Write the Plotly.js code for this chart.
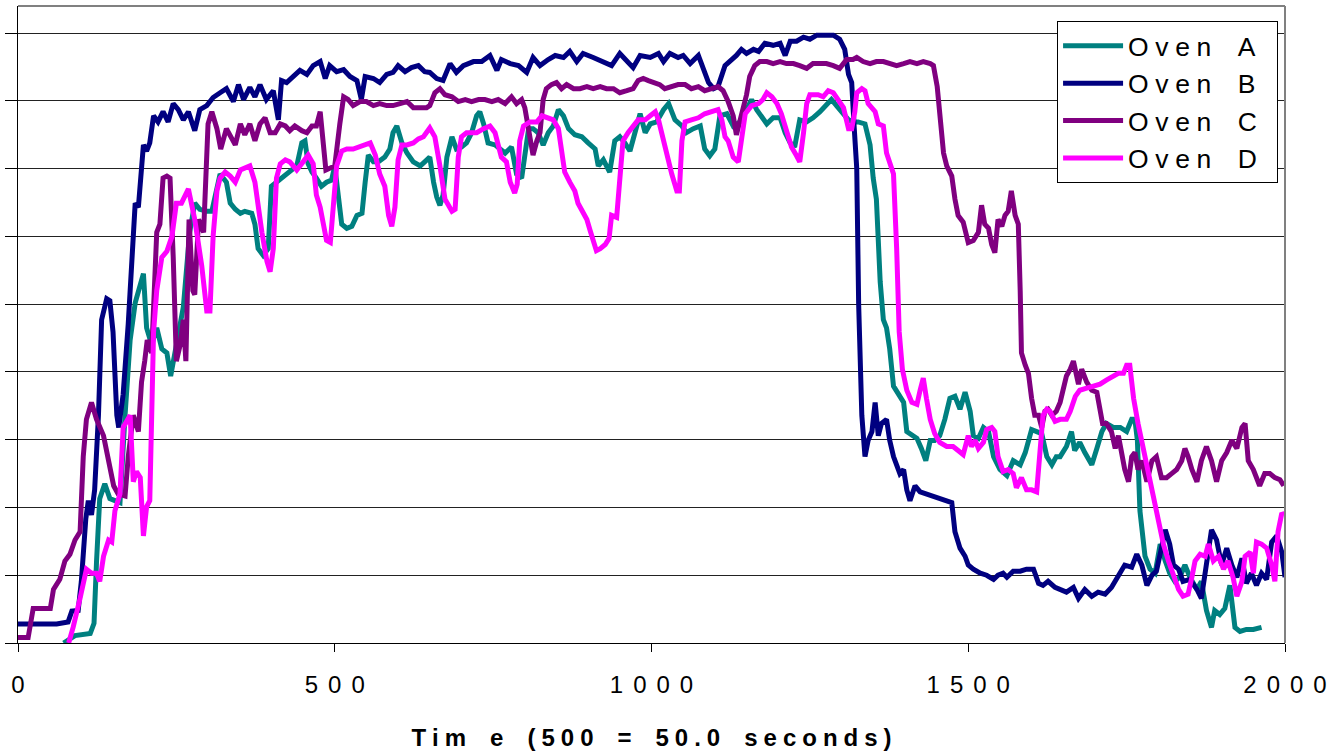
<!DOCTYPE html>
<html>
<head>
<meta charset="utf-8">
<script src="https://cdn.plot.ly/plotly-3.0.1.min.js"></script>
<style>html,body{margin:0;padding:0;background:#fff;}#chart{width:1327px;height:754px;}</style>
</head>
<body>
<div id="chart"></div>
<script>
// ---- Data (x: time index, y: arbitrary temperature units, gridline every 10) ----
const seriesNames = ["Oven A", "Oven B", "Oven C", "Oven D"];
const seriesColors = ["#008080", "#000080", "#800080", "#FF00FF"];
const xTickValues = [0, 500, 1000, 1500, 2000];
const xTickLabels = ["0", "500", "1000", "1500", "2000"];
const xTitle = "Tim e (500 = 50.0 seconds)";

const ovenA_x = [72,90,114,120,124,129,137,145,153,161,169,177,185,198,203,211,219,227,235,241,250,261,271,279,287,298,306,314,319,329,335,343,351,358,369,374,379,387,395,400,408,419,429,440,448,453,458,464,471,479,487,495,500,506,511,519,527,535,543,548,553,561,569,579,587,592,598,606,614,624,635,642,650,656,661,666,671,677,685,692,700,708,716,724,729,735,742,753,761,769,779,787,795,800,806,813,821,829,837,845,853,861,869,879,890,900,911,916,924,934,942,950,958,966,974,982,990,998,1008,1019,1027,1037,1048,1055,1066,1077,1084,1092,1100,1108,1119,1129,1140,1150,1158,1166,1174,1182,1192,1203,1211,1219,1226,1234,1245,1255,1266,1276,1284,1292,1303,1311,1318,1326,1337,1345,1350,1355,1361,1366,1371,1376,1382,1390,1398,1403,1411,1419,1426,1433,1440,1447,1455,1463,1471,1479,1487,1495,1503,1508,1516,1524,1532,1540,1550,1561,1571,1582,1590,1600,1608,1616,1624,1632,1639,1645,1655,1663,1668,1676,1684,1695,1703,1711,1718,1729,1740,1750,1758,1763,1767,1771,1779,1787,1795,1803,1811,1818,1826,1834,1842,1850,1861,1868,1876,1884,1889,1897,1905,1913,1921,1929,1939,1950,1963];
const ovenA_y = [0,1.1,1.4,2.9,12.1,21.3,23.5,21.3,21,20.7,33.6,44.7,50.2,54.5,46.5,44,46.5,43.4,42.8,39.4,44,49.6,60.6,64.9,64,63.7,63.7,66.7,69.2,68,64.9,64,63.4,63.7,63.4,61.8,58.2,57.2,58.2,67.4,68,68.9,69.8,70.4,73.8,74.1,70.7,69.5,68.6,67.4,68,68.3,70.4,66.1,61.8,61.2,61.5,63.1,63.4,68,72,71,71,71.7,72.9,75.3,76.3,73.8,72.3,71,70.4,71,71.7,68,65.8,64.6,66.1,71.7,74.7,72.9,73.2,73.8,75.3,77.8,78.4,76.6,73.8,73.5,72.9,72.3,73.2,69.2,68.6,71.7,75.9,75.9,75.3,73.5,75.3,76.3,78.7,77.8,75.9,75,74.7,73.8,72.9,70.4,71.3,69.5,74.1,74.7,73.8,72.6,75.3,78.1,75.3,76.6,76.9,78.7,79.6,77.2,76.3,75.3,75.9,76.3,72.9,71.9,72.9,77.8,78.1,76.3,76.9,78.7,80.2,78.7,77.5,76.6,77.5,77.5,75.3,73.8,73.2,77.2,76.9,77.5,78.4,79.3,80.2,79.3,78.1,77.2,76.9,76.9,76.6,73.5,68.6,65.5,53.3,47.7,46.5,43.4,37.9,36.7,35.5,31.2,30.6,30.2,28.7,26.9,29.9,29.9,30.6,33,36.1,36.4,34.5,37,34.2,30.6,30.2,31.8,31.2,27.5,25.6,24.7,26.9,26.3,28.1,31.5,31.2,30.9,27.5,26.3,27.5,27.5,29,31.2,28.4,29.6,28.1,26.3,28.7,31.2,32.4,31.8,31.8,31.2,33,33,29.9,19.5,12.8,10.9,10.3,14.6,12.1,10.3,9.1,9.7,11.5,9.7,7.9,9.1,4.8,2.3,4.8,4.2,5.1,8.5,2.3,1.7,2,2,2.3];

const ovenB_x = [0,61,79,85,95,100,107,111,116,121,127,132,140,145,150,156,159,166,174,179,185,190,198,203,208,214,221,229,237,245,253,261,269,279,287,298,308,319,329,340,348,356,366,374,382,392,403,411,416,424,435,445,456,466,477,485,492,503,514,524,535,542,548,561,571,582,592,600,611,621,632,642,650,661,671,682,692,703,719,732,745,756,763,777,790,803,813,824,837,848,861,871,882,892,908,924,937,950,961,971,982,998,1011,1019,1029,1042,1050,1061,1074,1082,1090,1098,1105,1116,1127,1134,1142,1150,1161,1169,1179,1192,1203,1211,1219,1229,1240,1250,1261,1276,1287,1297,1305,1311,1316,1320,1324,1327,1332,1337,1342,1348,1353,1358,1363,1371,1376,1382,1392,1398,1403,1408,1416,1424,1434,1445,1455,1466,1474,1479,1487,1495,1500,1508,1519,1529,1540,1547,1555,1561,1571,1582,1592,1603,1611,1618,1626,1637,1645,1655,1666,1674,1684,1695,1705,1716,1726,1737,1747,1758,1766,1774,1782,1790,1797,1805,1811,1818,1824,1832,1839,1850,1861,1868,1876,1884,1892,1900,1908,1916,1924,1932,1939,1947,1955,1963,1971,1979,1987,1995,2000];
const ovenB_y = [2.8,2.8,3.1,4.7,4.8,9.1,18.3,21,18.9,22.6,33.6,47.7,50.8,50.5,45.9,33.6,31.8,36.7,47.1,55,64.9,64.3,73.5,72.6,73.8,77.8,76.9,78.4,76.9,79.6,78.7,77.2,78.4,75.6,78.7,79.3,80.5,81.2,81.8,79.9,82.4,80.2,82,80.6,82.4,80.2,81.5,77.2,83,82.7,83.6,84.5,83.9,85.2,85.8,83.3,85.2,84.3,84.6,83.6,83,80.2,83.6,83.3,82.7,83.9,84.2,85.2,84.3,84.9,85.2,84.3,84.2,83.3,83,85.5,84.2,85.2,85.8,85.8,86.7,84.5,86.1,85.5,85.2,84.2,86.4,85.2,86.1,86.7,86.4,87.3,85.8,87,86.4,85.8,85.2,87,85.8,84.9,86.7,86.4,87,85.8,87,86.4,86.7,85.5,86.7,84.5,82.7,81.8,82.1,85.2,86.1,86.7,87.6,87,87.6,87.3,88.5,88.2,88.5,86.7,88.8,88.8,89.4,89.1,89.7,89.7,89.7,89.1,87.6,83.9,82.7,76,70,50,33.6,27.5,29.9,31.2,35.5,30.6,32.4,33,29.9,27.5,25,25.6,22.6,21,23.2,22.3,22,21.7,21.3,21,20.7,16.4,14,12.8,11.5,10.9,10.3,10,9.4,10,10.3,9.7,10.6,10.6,10.9,10.9,8.8,8.5,9.1,8.2,7.9,7.5,8.2,6.6,7.9,6.9,7.5,7.2,8.2,10,11.5,11.2,13.1,11.5,8.5,10,10.6,14,16.7,14.6,11.5,10.9,9.1,9.4,7.9,6.6,12.1,16.7,15.2,11.5,14,11.5,9.7,12.5,8.8,10.3,8.5,10.3,9.4,14.9,15.8,13.4,9.7];

const ovenC_x = [0,16,24,51,56,66,74,82,90,98,103,108,116,124,135,143,151,158,169,174,182,190,195,200,204,211,219,224,229,235,240,245,250,256,261,265,270,276,279,285,293,300,306,314,320,329,337,343,351,358,366,374,382,390,398,406,414,422,429,437,448,456,464,471,477,482,486,493,500,508,514,521,529,540,550,561,571,582,592,603,614,624,635,645,650,658,666,674,685,695,706,716,727,737,748,758,769,779,787,795,800,804,808,813,819,824,829,834,842,850,858,866,877,887,898,908,919,929,940,950,961,971,979,987,995,1003,1013,1021,1032,1042,1053,1063,1074,1084,1095,1105,1113,1121,1129,1134,1140,1145,1150,1155,1163,1171,1182,1192,1203,1213,1224,1234,1245,1255,1266,1276,1287,1297,1308,1318,1324,1334,1345,1355,1366,1376,1387,1398,1408,1419,1429,1440,1445,1451,1455,1461,1466,1474,1479,1484,1492,1500,1508,1516,1521,1526,1532,1537,1542,1547,1553,1558,1563,1568,1574,1579,1582,1584,1590,1595,1600,1605,1611,1616,1621,1626,1632,1639,1645,1650,1655,1661,1666,1674,1679,1687,1695,1703,1708,1712,1718,1726,1732,1737,1742,1747,1753,1758,1763,1768,1774,1782,1790,1797,1805,1813,1821,1829,1837,1842,1847,1853,1861,1868,1876,1884,1892,1900,1908,1916,1924,1932,1937,1942,1950,1960,1968,1976,1984,1992,1998];
const ovenC_y = [0.8,0.8,5.1,5.1,7.9,9.4,12.1,13.1,15.2,16.4,27.5,33,35.5,33,30.6,26.9,23.2,22,21.7,27.5,33.6,31.2,38.5,41.6,44.7,42.8,60.6,61.8,68.6,68.9,68.6,57,41.6,44,47.7,41.6,62.5,52,51.4,62.5,60.6,76.6,78.4,75.9,72.9,75.9,74.7,73.5,76.6,75,76.6,74.1,76.6,77.5,75.3,75.3,76.6,76.3,75.6,76.3,75.6,75.3,76.3,76.3,78.4,74.1,69.8,70.1,70.4,76.6,80.6,80.2,79.3,79.9,79.9,79.3,79.6,79.3,79.3,79.6,79.9,79,79,79,79.3,81.2,81.8,80.9,80.6,79.9,80.2,79.9,80.2,80.2,79.9,80.2,79.6,80.6,79.6,80.2,79,76.6,74.1,72,74.1,75.3,80.2,81.8,82.4,82.7,81.8,82.4,81.8,81.8,82.1,81.8,82.1,81.8,81.8,81.2,81.5,81.8,83,83.3,83,82.7,82.4,81.8,82.1,82.4,82.4,81.8,82.1,81.5,81.8,82.1,81.5,79.9,77.8,75,77.2,79,80.9,83.6,85.2,85.8,85.8,85.5,85.8,85.5,85.5,85.2,84.8,85.5,85.5,85.5,85.2,84.8,86.1,86.1,86.4,85.8,85.5,85.8,85.8,85.5,85.2,85.5,85.8,85.5,85.8,85.5,85.2,82.1,77.8,72.3,70.4,68.9,65.5,63.1,62.1,59.1,59.4,60.6,64.6,61.8,61.2,58.8,57.6,62.5,61.5,63.1,63.7,66.7,63.1,61.8,52,42.8,41,39.8,36.1,33.6,33.6,31.8,34.2,34.5,33.6,34.2,35.5,37.9,39.4,40.4,41.6,38.2,40.4,38.5,37.3,37,34.8,32.4,32.4,31.2,28.7,30.6,28.1,25.6,23.8,27.5,28.1,25.6,26.9,23.8,26.9,27.5,24.4,24.4,25,25.6,26.9,28.7,27.5,25.6,23.8,26.9,29,26.9,23.8,26.9,28.1,29.9,28.7,31.8,32.4,26.9,25.6,23.2,25,25,24.4,24.1,23.2];

const ovenD_x = [80,87,98,103,108,116,124,129,135,143,148,153,161,166,172,177,182,187,193,198,203,208,214,219,227,235,243,250,258,269,279,290,298,303,308,314,319,327,335,343,351,358,366,374,379,385,393,398,403,408,414,422,429,440,450,458,466,471,477,482,487,493,498,503,511,519,529,540,548,556,564,571,579,585,590,595,600,606,614,624,632,640,650,658,666,674,685,690,695,700,708,724,735,745,753,758,763,771,777,784,788,792,798,808,819,827,834,845,853,858,863,871,879,884,892,898,903,908,913,919,927,933,937,945,950,955,963,971,979,982,990,998,1006,1011,1016,1024,1032,1040,1044,1048,1053,1063,1074,1084,1095,1105,1111,1116,1121,1129,1137,1142,1148,1158,1169,1176,1182,1190,1198,1205,1213,1221,1229,1234,1240,1245,1250,1263,1271,1279,1287,1295,1303,1311,1316,1321,1324,1332,1337,1342,1348,1353,1358,1366,1371,1376,1382,1387,1391,1396,1403,1411,1419,1424,1429,1434,1440,1447,1455,1466,1476,1484,1492,1500,1505,1511,1516,1524,1529,1537,1542,1547,1555,1563,1571,1576,1584,1592,1600,1608,1613,1618,1624,1629,1637,1645,1655,1661,1669,1676,1687,1697,1708,1718,1729,1737,1745,1750,1755,1761,1768,1776,1784,1792,1800,1808,1816,1824,1832,1839,1847,1853,1858,1866,1874,1879,1887,1895,1903,1910,1918,1924,1932,1937,1945,1950,1955,1963,1971,1979,1984,1989,1995,1998];
const ovenD_y = [0,2.3,6.6,8.5,10.9,10.3,10.3,9.1,12.8,15.2,14.9,19.5,22,31.8,33,33.6,23.8,25.3,24.4,15.8,20.1,21,45.9,52,56.9,57.8,60,64.9,64.9,67,62.5,55.7,49,49,60,66.7,68.6,69.5,68.9,68,69.8,70.1,70.4,68,64.3,60.6,56.3,54.8,58.2,68.6,70.7,71.3,71,69.8,71,72,70.7,66.1,64.3,61.8,59.4,59.1,64.3,70.4,72.6,72.9,72.9,73.2,73.5,73.8,72,69.2,67.4,63.1,61.5,64.3,71.3,73.5,73.5,73.8,74.4,74.7,76,74.7,70.4,65.5,63.7,64,71.7,74.7,75.3,75.3,75.9,76.3,75.3,73.5,71.7,71,68,66.4,67.7,74.1,76.3,76.9,76.9,77.8,77.5,77.2,75.9,72.9,69.5,68,66.7,64.9,63.7,62.5,60.9,59.4,57.9,58.2,58.8,59.7,63.1,62.8,69.8,74.1,75.3,76.3,77.2,77.2,77.2,77.8,78.4,77.2,75.3,71.7,69.2,66.7,66.7,74.1,76.9,77.2,77.5,78.1,78.4,78.7,77.2,74.7,74.1,71.7,71,74.7,78.1,79.3,79.6,80.2,81.2,80.6,79.6,78.1,75.3,73.2,71.9,71,75.3,79.6,80.9,80.9,80.6,81.5,81.2,80.2,79,75.9,75.9,78.4,81.2,81.8,81.5,79.6,79,78.4,76.6,76.3,72.3,71,69.2,58.2,45.9,40.4,37.3,35.5,35.2,37.3,39.1,36.1,33,30.9,29.6,29,29,28.4,27.8,30.6,29,29.9,28.7,29.6,31.5,31.8,31.2,27.5,25.3,25.6,25,22.9,24.4,22.6,22.6,22.3,27.5,33.6,34.5,34.2,32.7,33,33,34.2,36.4,37.3,37.6,37.9,38.2,38.8,39.4,39.8,39.8,41,41,36.1,32.4,28.7,25,21.3,17.7,14.6,12.1,9.7,7.9,6.9,7.2,9.7,12.1,13.1,12.8,14.6,12.1,12.8,10.9,12.1,9.7,6.9,9.1,12.8,13.4,10.3,14.9,14.6,14,11.5,9.1,16.4,19.2,18.9];

const seriesX = [ovenA_x, ovenB_x, ovenC_x, ovenD_x];
const seriesY = [ovenA_y, ovenB_y, ovenC_y, ovenD_y];

// ---- Helpers ----
const FONT = "'Liberation Sans', Arial, Helvetica, sans-serif";
function spaced(s, gap) {
  return Array.from(s).map(c => c === " " ? gap + gap : c).join(gap);
}
const GAP = "\u2004\u200A";
const LEGEND_PAD = "\u00a0\u00a0";

const traces = seriesNames.map((name, i) => ({
  type: "scatter",
  mode: "lines",
  name: spaced(name, "\u2005") + LEGEND_PAD,
  x: seriesX[i],
  y: seriesY[i],
  line: { color: seriesColors[i], width: 5 },
  hoverinfo: "skip"
}));

const layout = {
  width: 1327,
  height: 754,
  margin: { l: 18, r: 42, t: 6, b: 111 },
  paper_bgcolor: "#ffffff",
  plot_bgcolor: "#ffffff",
  font: { family: FONT, color: "#000000" },
  showlegend: true,
  legend: {
    x: 0.8201, xanchor: "left",
    y: 0.9765, yanchor: "top",
    bgcolor: "#ffffff",
    bordercolor: "#000000",
    borderwidth: 1,
    font: { family: FONT, size: 26.5, color: "#000000" },
    itemwidth: 60,
    tracegroupgap: 0
  },
  xaxis: {
    range: [0, 2000],
    tickmode: "array",
    tickvals: xTickValues,
    ticktext: xTickLabels.map(t => spaced(t, GAP)),
    ticks: "outside",
    ticklen: 8,
    tickcolor: "#000000",
    tickwidth: 1,
    ticklabelstandoff: 12,
    showline: true,
    linecolor: "#000000",
    linewidth: 1,
    showgrid: false,
    zeroline: false,
    tickfont: { family: FONT, size: 24, color: "#000000" },
    title: {
      text: "<b>" + spaced(xTitle, "\u2005") + "</b>",
      font: { family: FONT, size: 24, color: "#000000" },
      standoff: 32
    }
  },
  yaxis: {
    range: [0, 94],
    tick0: 0,
    dtick: 10,
    showticklabels: false,
    ticks: "outside",
    ticklen: 12,
    tickcolor: "#000000",
    showline: true,
    linecolor: "#000000",
    linewidth: 1,
    showgrid: true,
    gridcolor: "#222222",
    gridwidth: 1,
    zeroline: false
  },
  shapes: [
    { type: "line", xref: "paper", yref: "paper", x0: 0, x1: 1, y0: 1, y1: 1, line: { color: "#808080", width: 2 } },
    { type: "line", xref: "paper", yref: "paper", x0: 1, x1: 1, y0: 0, y1: 1, line: { color: "#808080", width: 2 } }
  ]
};

Plotly.newPlot("chart", traces, layout, { displayModeBar: false, staticPlot: true });
</script>
</body>
</html>
